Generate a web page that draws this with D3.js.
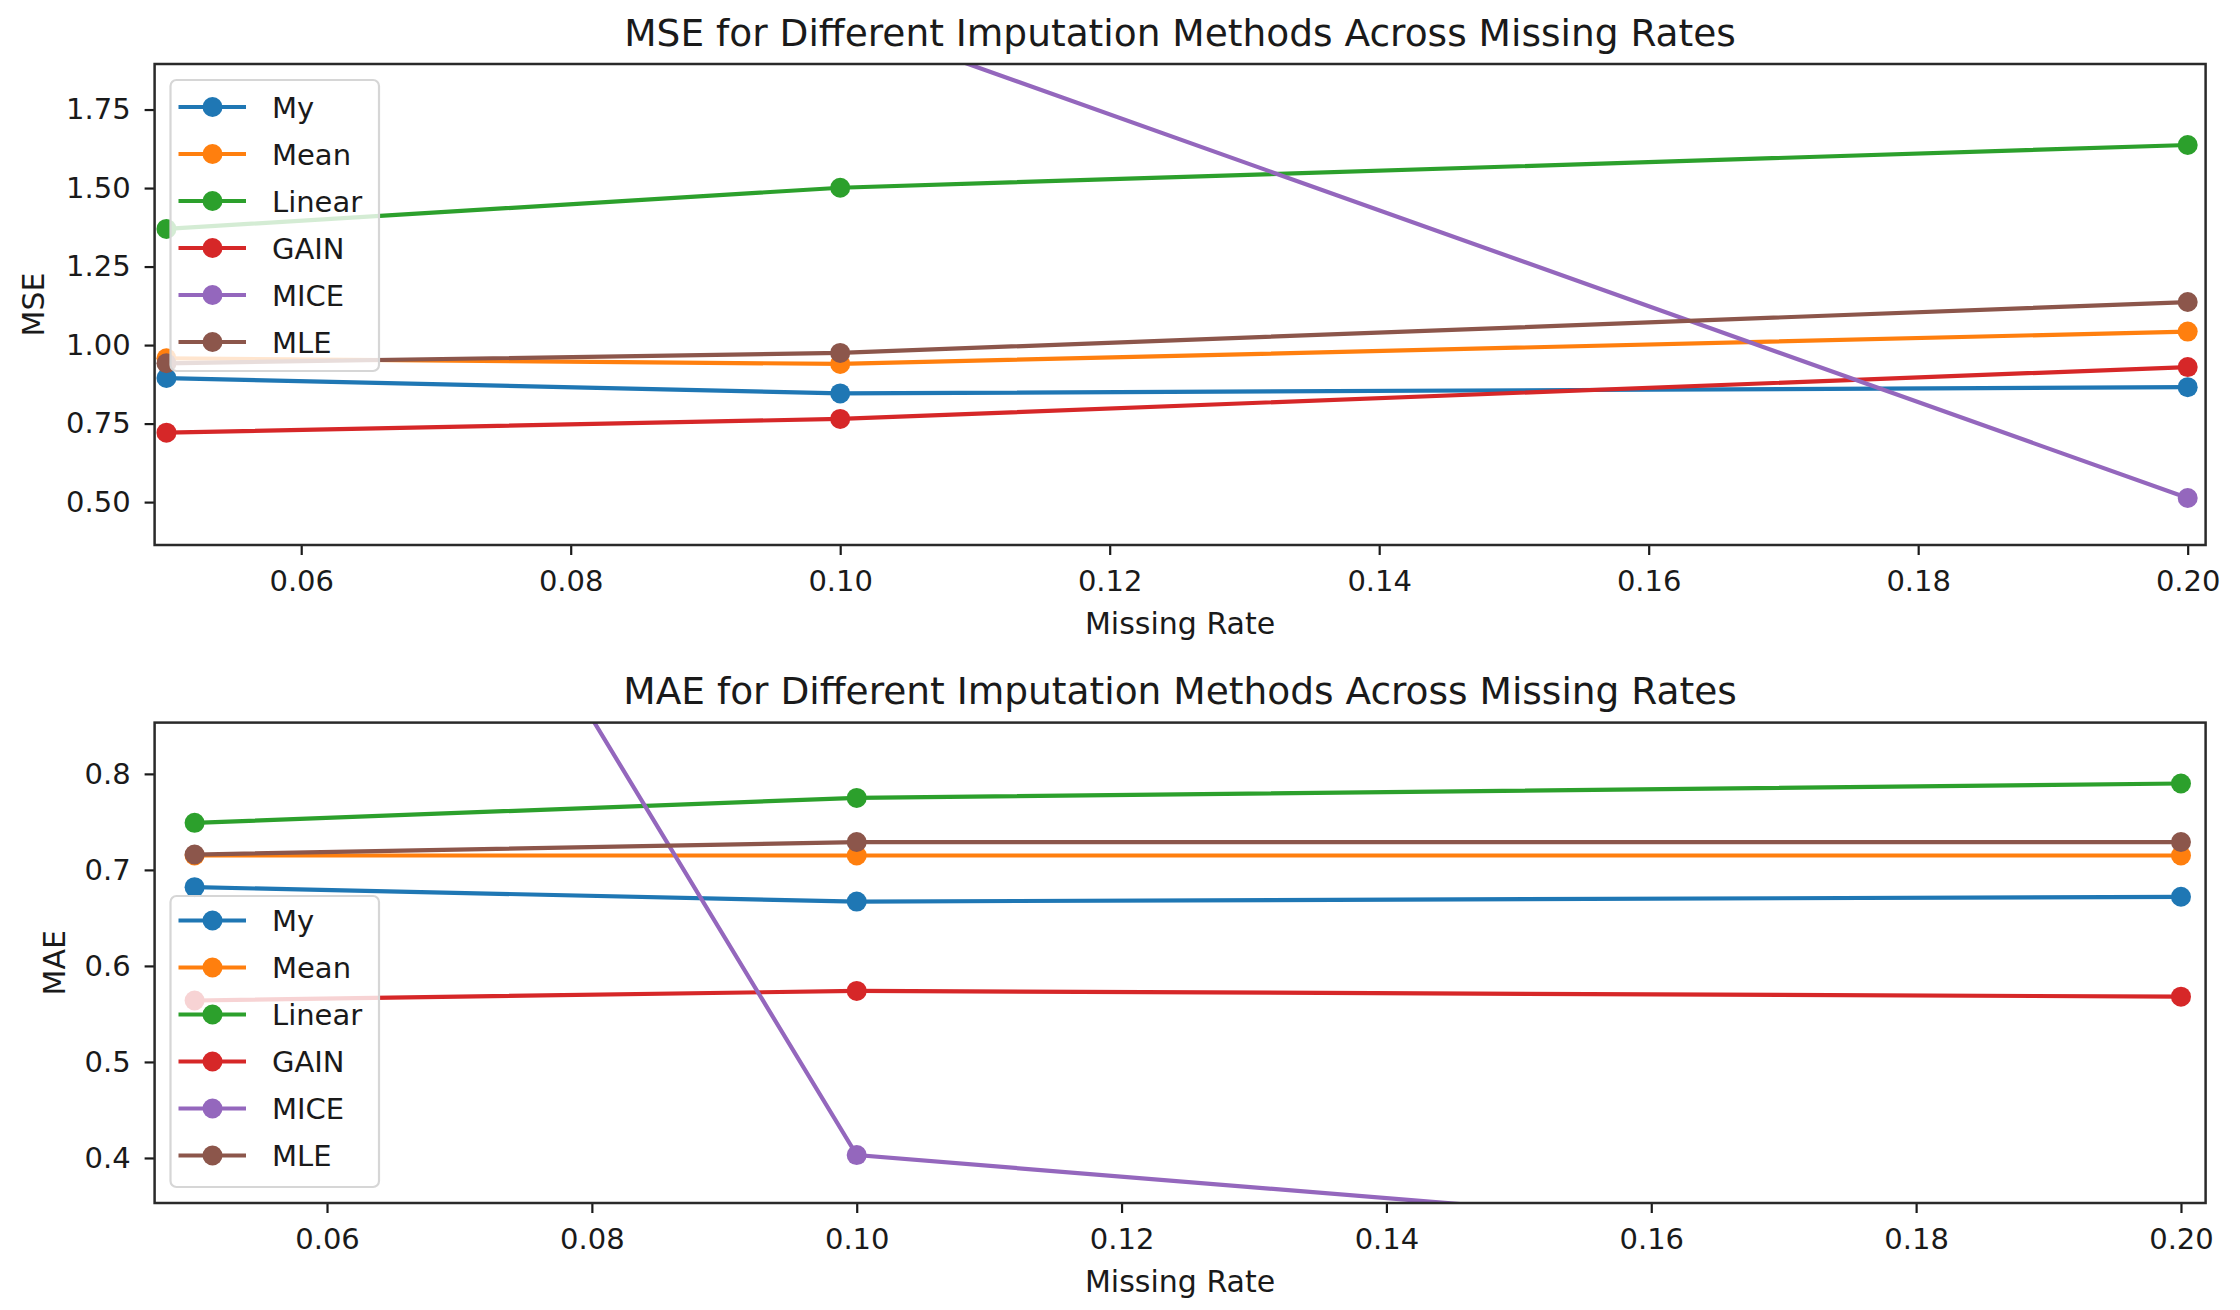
<!DOCTYPE html>
<html>
<head>
<meta charset="utf-8">
<script src="https://cdn.jsdelivr.net/npm/d3@7"></script>
<style>
    body { margin: 0; background: #fff; }
    text { font-family: "DejaVu Sans", sans-serif; fill: #1a1a1a; }
</style>
</head>
<body>
<svg id="chart" width="2240" height="1310"></svg>
<script>

    var missingRates = [0.05, 0.10, 0.20];
    var methods = ['My', 'Mean', 'Linear', 'GAIN', 'MICE', 'MLE'];

    // one row per method, one value per missing rate
    var mseValues = [
        [0.895, 0.846, 0.866],
        [0.958, 0.940, 1.043],
        [1.370, 1.501, 1.637],
        [0.721, 0.765, 0.930],
        [3.900, 2.040, 0.513],
        [0.942, 0.975, 1.137]
    ];
    var maeValues = [
        [0.682, 0.667, 0.672],
        [0.715, 0.715, 0.715],
        [0.749, 0.775, 0.790],
        [0.564, 0.574, 0.568],
        [1.540, 0.403, 0.291],
        [0.716, 0.729, 0.729]
    ];

    var rateTicks = [0.06, 0.08, 0.10, 0.12, 0.14, 0.16, 0.18, 0.20];
    var mseTicks = [0.50, 0.75, 1.00, 1.25, 1.50, 1.75];
    var maeTicks = [0.4, 0.5, 0.6, 0.7, 0.8];

    var colors = ['#1f77b4', '#ff7f0e', '#2ca02c', '#d62728', '#9467bd', '#8c564b'];
    var ink = '#1a1a1a';

    var svg = d3.select('#chart');
    svg.append('rect').attr('width', 2240).attr('height', 1310).attr('fill', '#fff');

    var left = 154.6,
        right = 2205.6;

    var panels = [
        {
            id: 'mse',
            title: 'MSE for Different Imputation Methods Across Missing Rates',
            yLabel: 'MSE',
            values: mseValues,
            yTicks: mseTicks,
            yFormat: '.2f',
            xDomain: [0.04912, 0.20133],
            yDomain: [0.3634, 1.895],
            top: 64,
            bottom: 545,
            legendTop: 80,
            legendFirst: 107,
            yLabelX: 44
        },
        {
            id: 'mae',
            title: 'MAE for Different Imputation Methods Across Missing Rates',
            yLabel: 'MAE',
            values: maeValues,
            yTicks: maeTicks,
            yFormat: '.1f',
            xDomain: [0.04698, 0.20186],
            yDomain: [0.3531, 0.8534],
            top: 722.6,
            bottom: 1203,
            legendTop: 896,
            legendFirst: 920.5,
            yLabelX: 65
        }
    ];

    var styleAxis = function (axisG) {
        axisG.attr('font-family', '"DejaVu Sans", sans-serif')
            .attr('font-size', 29)
            .attr('color', ink);
        axisG.select('.domain').remove();
        axisG.selectAll('.tick line').attr('stroke-width', 2.2);
        axisG.selectAll('.tick text').attr('fill', ink);
    };

    var drawPanel = function (p) {

        var xScale = d3.scaleLinear().domain(p.xDomain).range([left, right]),
            yScale = d3.scaleLinear().domain(p.yDomain).range([p.bottom, p.top]);

        var g = svg.append('g').classed('panel-' + p.id, true);

        g.append('clipPath')
            .attr('id', 'clip-' + p.id)
            .append('rect')
            .attr('x', left)
            .attr('y', p.top)
            .attr('width', right - left)
            .attr('height', p.bottom - p.top);

        var line = d3.line()
            .x(function (d) {
                return xScale(d.x);
            })
            .y(function (d) {
                return yScale(d.y);
            });

        var plot = g.append('g').attr('clip-path', 'url(#clip-' + p.id + ')');

        methods.forEach(function (name, i) {
            var points = missingRates.map(function (r, j) {
                return { x: r, y: p.values[i][j] };
            });
            var s = plot.append('g').classed('series', true);
            s.append('path')
                .attr('d', line(points))
                .attr('fill', 'none')
                .attr('stroke', colors[i])
                .attr('stroke-width', 4.2);
            s.selectAll('circle')
                .data(points)
                .enter().append('circle')
                .attr('cx', function (d) {
                    return xScale(d.x);
                })
                .attr('cy', function (d) {
                    return yScale(d.y);
                })
                .attr('r', 10)
                .attr('fill', colors[i]);
        });

        var xAxis = d3.axisBottom(xScale)
            .tickValues(rateTicks)
            .tickFormat(d3.format('.2f'))
            .tickSize(10)
            .tickPadding(15);
        g.append('g')
            .attr('transform', 'translate(0,' + p.bottom + ')')
            .call(xAxis)
            .call(styleAxis);

        var yAxis = d3.axisLeft(yScale)
            .tickValues(p.yTicks)
            .tickFormat(d3.format(p.yFormat))
            .tickSize(10)
            .tickPadding(14);
        g.append('g')
            .attr('transform', 'translate(' + left + ',0)')
            .call(yAxis)
            .call(styleAxis);

        g.append('rect')
            .attr('x', left)
            .attr('y', p.top)
            .attr('width', right - left)
            .attr('height', p.bottom - p.top)
            .attr('fill', 'none')
            .attr('stroke', '#2a2a2a')
            .attr('stroke-width', 2.5);

        g.append('text')
            .attr('x', (left + right) / 2)
            .attr('y', p.top - 18.5)
            .attr('text-anchor', 'middle')
            .attr('font-size', 37.5)
            .text(p.title);

        g.append('text')
            .attr('x', (left + right) / 2)
            .attr('y', p.bottom + 88.5)
            .attr('text-anchor', 'middle')
            .attr('font-size', 30)
            .text('Missing Rate');

        g.append('text')
            .attr('transform', 'translate(' + p.yLabelX + ',' + (p.top + p.bottom) / 2 + ') rotate(-90)')
            .attr('text-anchor', 'middle')
            .attr('font-size', 30)
            .text(p.yLabel);

        // legend
        var legend = g.append('g').classed('legend', true);
        legend.append('rect')
            .attr('x', 170.5)
            .attr('y', p.legendTop)
            .attr('width', 208.5)
            .attr('height', 291)
            .attr('rx', 6)
            .attr('fill', '#fff')
            .attr('fill-opacity', 0.8)
            .attr('stroke', '#d6d6d6')
            .attr('stroke-width', 2.2);

        var entries = legend.selectAll('g.entry')
            .data(methods)
            .enter().append('g')
            .classed('entry', true)
            .attr('transform', function (d, i) {
                return 'translate(0,' + (p.legendFirst + i * 47) + ')';
            });
        entries.append('line')
            .attr('x1', 178.5)
            .attr('x2', 246)
            .attr('stroke', function (d, i) {
                return colors[i];
            })
            .attr('stroke-width', 4.2);
        entries.append('circle')
            .attr('cx', 212.5)
            .attr('r', 10)
            .attr('fill', function (d, i) {
                return colors[i];
            });
        entries.append('text')
            .attr('x', 272)
            .attr('y', 10.5)
            .attr('font-size', 29)
            .text(function (d) {
                return d;
            });
    };

    panels.forEach(drawPanel);

</script>
</body>
</html>
